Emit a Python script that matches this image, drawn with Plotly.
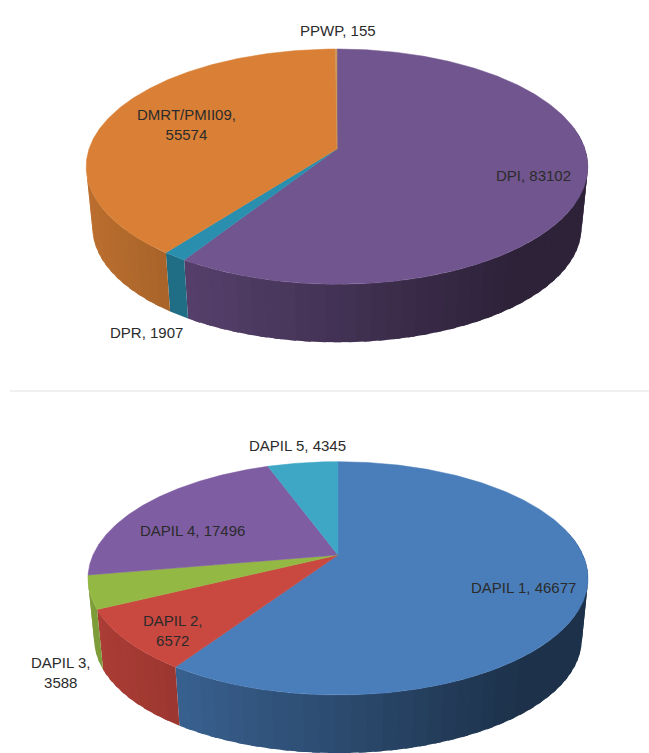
import math
import plotly.graph_objects as go

# ---- data ----
top_names = ["DPI", "DPR", "DMRT/PMII09", "PPWP"]
top_values = [83102, 1907, 55574, 155]
bottom_names = ["DAPIL 1", "DAPIL 2", "DAPIL 3", "DAPIL 4", "DAPIL 5"]
bottom_values = [46677, 6572, 3588, 17496, 4345]

# ---- style ----
top_colors = ["#71558e", "#2a8fae", "#d98036", "#c9985e"]
bottom_colors = ["#4a7ebb", "#c9483f", "#93b844", "#7f5da3", "#3fa7c6"]
TEXT = "#2b2b2b"
FONT = "Liberation Sans"


def shade(hex_color, f):
    r, g, b = (int(hex_color[i:i + 2], 16) for i in (1, 3, 5))
    return f"rgb({int(r * f)},{int(g * f)},{int(b * f)})"


class Geometry:
    """Tilted-disc projection: a unit disc seen in perspective."""

    def __init__(self, cx, apex_y, B, A, p, depth, shrink, mid_y):
        self.cx, self.apex_y, self.B, self.A, self.p = cx, apex_y, B, A, p
        self.depth, self.shrink, self.mid_y = depth, shrink, mid_y

    def rim(self, deg):
        t = math.radians(deg)
        u, v = math.sin(t), -math.cos(t)
        k = 1 - self.p * v
        return self.cx + self.B * u / k, self.apex_y + self.A * v / k

    def base(self, deg):
        x, y = self.rim(deg)
        return (self.cx + (x - self.cx) * self.shrink,
                self.mid_y + (y - self.mid_y) * self.shrink + self.depth)


def draw_pie(fig, values, colors, g):
    total = sum(values)
    edges = [0.0]
    for val in values:
        edges.append(edges[-1] + val / total * 360)
    # side wall, sliced into narrow strips for the left-to-right shading
    for i, col in enumerate(colors):
        a0, a1 = edges[i], edges[i + 1]
        n = max(1, int((a1 - a0) / 3))
        for j in range(n):
            s0 = a0 + (a1 - a0) * j / n
            s1 = a0 + (a1 - a0) * (j + 1) / n
            mid = (s0 + s1) / 2
            if 78 < mid < 261:
                # each strip overlaps the next one so no seams show
                hi = min(a1, s1 + 1.5)
                arc = [s0 + (hi - s0) * k / 4 for k in range(5)]
                p = [g.rim(a) for a in arc] + [g.base(a) for a in reversed(arc)]
                p.append(p[0])
                mx = g.rim(mid)[0]
                t = min(1, (mx - 90) / 430)
                c = shade(col, 0.86 - 0.46 * t)
                fig.add_trace(go.Scatter(
                    x=[q[0] for q in p], y=[q[1] for q in p], mode="lines",
                    fill="toself", fillcolor=c, line=dict(color=c, width=0),
                    hoverinfo="skip", showlegend=False))
    # top surface
    for i, col in enumerate(colors):
        a0, a1 = edges[i], edges[i + 1]
        n = max(2, int((a1 - a0) * 2))
        pts = [(g.cx, g.apex_y)] + [g.rim(a0 + (a1 - a0) * j / n) for j in range(n + 1)]
        pts.append(pts[0])
        fig.add_trace(go.Scatter(
            x=[q[0] for q in pts], y=[q[1] for q in pts], mode="lines",
            fill="toself", fillcolor=col, line=dict(color=col, width=0.5),
            hoverinfo="skip", showlegend=False))


fig = go.Figure()
top_geo = Geometry(337, 149, 248, 115, 0.15, 61, 0.975, 167)
bottom_geo = Geometry(338, 555, 245, 112, 0.2, 61, 0.975, 578)
draw_pie(fig, top_values, top_colors, top_geo)
draw_pie(fig, bottom_values, bottom_colors, bottom_geo)


def label(x, y, text):
    fig.add_annotation(x=x, y=y, text=text, showarrow=False, align="center",
                       font=dict(family=FONT, size=15, color=TEXT))


label(338, 30, f"{top_names[3]}, {top_values[3]}")
label(186, 124, f"{top_names[2]},<br>{top_values[2]}")
label(533, 175, f"{top_names[0]}, {top_values[0]}")
label(146, 332, f"{top_names[1]}, {top_values[1]}")
label(297, 445, f"{bottom_names[4]}, {bottom_values[4]}")
label(192, 530, f"{bottom_names[3]}, {bottom_values[3]}")
label(523, 587, f"{bottom_names[0]}, {bottom_values[0]}")
label(172, 630, f"{bottom_names[1]},<br>{bottom_values[1]}")
label(60, 672, f"{bottom_names[2]},<br>{bottom_values[2]}")

# faint divider between the two charts
fig.add_shape(type="line", x0=10, x1=649, y0=391, y1=391,
              line=dict(color="#f0f0f0", width=2))

fig.update_layout(
    width=649, height=753, margin=dict(l=0, r=0, t=0, b=0),
    paper_bgcolor="white", plot_bgcolor="white", showlegend=False,
    xaxis=dict(range=[0, 649], visible=False, fixedrange=True),
    yaxis=dict(range=[753, 0], visible=False, fixedrange=True),
)
fig.write_html("out.html", config={"displayModeBar": False},
               post_script="document.body.style.margin='0';document.documentElement.style.overflow='hidden';")
